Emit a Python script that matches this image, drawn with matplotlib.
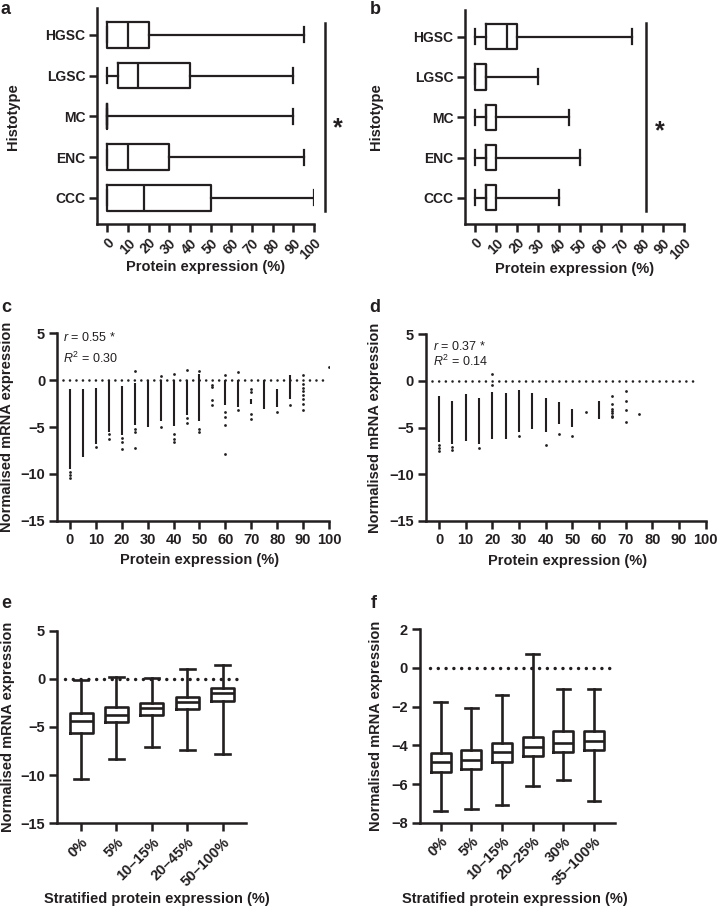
import matplotlib
matplotlib.use('Agg')
import matplotlib.pyplot as plt

plt.rcParams['font.family'] = ['Liberation Sans', 'DejaVu Sans']
plt.rcParams['font.weight'] = 'bold'
plt.rcParams['axes.labelweight'] = 'bold'
plt.rcParams['mathtext.fontset'] = 'custom'
plt.rcParams['mathtext.it'] = 'Liberation Sans:italic:weight=normal'
plt.rcParams['mathtext.rm'] = 'Liberation Sans:weight=normal'
plt.rcParams['lines.scale_dashes'] = False

INK = '#231f20'
W, H = 717, 907

# ---------------- data ----------------
histotypes = ['HGSC', 'LGSC', 'MC', 'ENC', 'CCC']
a_whislo = [0, 0, 0, 0, 0]
a_q1 = [0, 5, 0, 0, 0]
a_med = [10, 15, 0, 10, 17.5]
a_q3 = [20, 40, 0, 30, 50]
a_whishi = [95, 90, 90, 95, 100]

b_whislo = [0, 0, 0, 0, 0]
b_q1 = [5, 0, 5, 5, 5]
b_med = [15, 5, 5, 5, 5]
b_q3 = [20, 5, 10, 10, 10]
b_whishi = [75, 30, 45, 50, 40]

protein_ticks = [0, 10, 20, 30, 40, 50, 60, 70, 80, 90, 100]

# panel c: dense columns (drawn as solid runs of points) + isolated points
c_col_x = [0, 5, 10, 15, 20, 25, 30, 35, 40, 45, 50, 60, 65, 70, 75, 80, 85]
c_col_top = [-0.9, -0.9, -0.8, -0.1, -0.6, -0.35, 0.0, 0.0, 0.0, 0.0, 0.7, 0.0, 0.0, -2.0, 0.0, -0.9, 0.5]
c_col_bot = [-9.5, -8.2, -6.8, -5.5, -5.9, -4.8, -5.0, -4.4, -4.9, -3.7, -4.4, -2.7, -2.85, -2.5, -3.1, -2.85, -2.0]
c_pts_x = [0, 0, 0, 10, 15, 15, 20, 20, 20, 25, 25, 25, 25, 35, 35, 40, 40, 40, 40,
           45, 45, 45, 50, 50, 50, 55, 55, 55, 55, 60, 60, 60, 60, 60, 65, 65,
           70, 70, 70, 70, 80, 85, 90, 90, 90, 90, 90, 90, 90, 90, 100]
c_pts_y = [-9.8, -10.1, -10.4, -7.1, -5.8, -6.25, -6.2, -6.6, -7.4, 0.97, -5.2, -5.5, -7.2, 0.4, -5.0,
           0.7, -5.7, -6.25, -6.6, 1.07, -4.0, -4.6, 0.97, -5.2, -5.5, -0.55, -0.75, -2.1, -2.6,
           0.6, -3.4, -3.9, -4.8, -7.9, 0.9, -3.2, -0.9, -1.3, -3.6, -4.1, -3.4, -2.7,
           0.5, -0.4, -0.8, -1.2, -1.6, -2.0, -2.5, -3.2, 1.4]
c_r_text = '$r$ = 0.55 *'
c_r2_text = '$R^2$ = 0.30'

# panel d
d_col_x = [0, 5, 10, 15, 20, 25, 30, 35, 40, 45, 50, 60]
d_col_top = [-1.6, -2.1, -1.36, -1.8, -1.2, -1.3, -1.0, -1.3, -1.8, -2.26, -3.0, -2.15]
d_col_bot = [-6.5, -6.7, -6.4, -6.7, -6.2, -6.2, -5.5, -5.1, -5.5, -4.6, -4.9, -4.05]
d_pts_x = [0, 0, 0, 5, 5, 15, 20, 20, 30, 40, 45, 50, 55, 65, 65, 65, 65, 65, 65, 65,
           70, 70, 70, 70, 75]
d_pts_y = [-6.9, -7.2, -7.45, -7.1, -7.4, -7.2, 0.8, -0.47, -5.85, -6.9, -5.66, -5.9, -3.33,
           -1.65, -2.5, -3.0, -3.2, -3.45, -3.7, -3.9, -1.1, -2.1, -3.1, -4.37, -3.55]
d_r_text = '$r$ = 0.37 *'
d_r2_text = '$R^2$ = 0.14'

# panel e
e_cats = ['0%', '5%', '10–15%', '20–45%', '50–100%']
e_whislo = [-10.4, -8.3, -7.1, -7.4, -7.8]
e_q1 = [-5.66, -4.45, -3.78, -3.12, -2.26]
e_med = [-4.4, -3.75, -3.05, -2.36, -1.5]
e_q3 = [-3.57, -2.95, -2.53, -1.84, -1.0]
e_whishi = [-0.13, 0.17, 0.05, 1.07, 1.39]

# panel f
f_cats = ['0%', '5%', '10–15%', '20–25%', '30%', '35–100%']
f_whislo = [-7.38, -7.3, -7.08, -6.1, -5.79, -6.9]
f_q1 = [-5.36, -5.2, -4.85, -4.55, -4.37, -4.23]
f_med = [-4.84, -4.75, -4.32, -4.08, -3.88, -3.75]
f_q3 = [-4.4, -4.23, -3.88, -3.56, -3.28, -3.25]
f_whishi = [-1.76, -2.07, -1.42, 0.72, -1.1, -1.1]

# ---------------- figure ----------------
fig = plt.figure(figsize=(W / 100, H / 100), dpi=100)


def add_ax(l, t, r, b):
    return fig.add_axes([l / W, 1 - b / H, (r - l) / W, (b - t) / H])


def style(ax, labelsize=10):
    for s in ['top', 'right']:
        ax.spines[s].set_visible(False)
    for s in ['left', 'bottom']:
        ax.spines[s].set_linewidth(1.8)
        ax.spines[s].set_color(INK)
    ax.tick_params(width=1.8, length=5.5, color=INK, labelcolor=INK, labelsize=labelsize, pad=3)


def px_to_axes(ax, xpx, ypx):
    return ax.transAxes.inverted().transform((xpx, H - ypx))


def set_labels(ax, xlabel, xpos, ylabel, ypos, size=10.5):
    ax.set_xlabel(xlabel, fontsize=size, color=INK, va='center')
    ax.set_ylabel(ylabel, fontsize=size, color=INK, va='center')
    ax.xaxis.set_label_coords(*px_to_axes(ax, *xpos))
    ax.yaxis.set_label_coords(*px_to_axes(ax, *ypos))


def boxes(ax, pos, lo, q1, med, q3, hi, width, capw, orient, lw=1.6):
    stats = [dict(whislo=a, q1=b, med=c, q3=d, whishi=e, fliers=[])
             for a, b, c, d, e in zip(lo, q1, med, q3, hi)]
    lp = dict(color=INK, linewidth=lw)
    ax.bxp(stats, positions=pos, widths=width, capwidths=capw, orientation=orient,
           showfliers=False, boxprops=lp, whiskerprops=lp, capprops=lp,
           medianprops=lp, manage_ticks=False)


def dotted_zero(ax, x0, x1, lw, gap):
    ax.plot([x0, x1], [0, 0], color=INK, lw=lw, linestyle=(0, (0.01, gap)),
            dash_capstyle='round', solid_capstyle='round', zorder=1)


def letter(txt, xpx, ypx):
    fig.text(xpx / W, 1 - ypx / H, txt, fontsize=13, fontweight='bold', color=INK,
             ha='center', va='center')


# ---- a ----
ax = add_ax(97, 8, 314, 224)
style(ax)
boxes(ax, range(len(histotypes)), a_whislo, a_q1, a_med, a_q3, a_whishi, 0.63, 0.37, 'horizontal')
ax.set_xlim(-5, 100)
ax.set_ylim(4.64, -0.66)
ax.set_yticks(range(len(histotypes)))
ax.set_yticklabels(histotypes)
ax.set_xticks(protein_ticks)
ax.set_xticklabels([str(t) for t in protein_ticks], rotation=45, ha='right', va='top',
                   rotation_mode='anchor')
ax.plot([105.3, 105.3], [-0.29, 4.32], color=INK, lw=1.8, clip_on=False)
ax.text(111.6, 2.3, '*', fontsize=18, ha='center', va='center', color=INK, clip_on=False)
set_labels(ax, 'Protein expression (%)', (206, 267), 'Histotype', (13, 117))

# ---- b ----
ax = add_ax(465, 10, 684, 224)
style(ax)
boxes(ax, range(len(histotypes)), b_whislo, b_q1, b_med, b_q3, b_whishi, 0.63, 0.37, 'horizontal')
ax.set_xlim(-5, 100)
ax.set_ylim(4.65, -0.66)
ax.set_yticks(range(len(histotypes)))
ax.set_yticklabels(histotypes)
ax.set_xticks(protein_ticks)
ax.set_xticklabels([str(t) for t in protein_ticks], rotation=45, ha='right', va='top',
                   rotation_mode='anchor')
ax.plot([82, 82], [-0.33, 4.32], color=INK, lw=1.8)
ax.text(88.6, 2.35, '*', fontsize=18, ha='center', va='center', color=INK)
set_labels(ax, 'Protein expression (%)', (575, 269), 'Histotype', (376, 117))

# ---- c ----
ax = add_ax(57, 333.3, 329, 520.7)
style(ax, 10.5)
dotted_zero(ax, -2.5, 97.5, 1.9, 4.66)
ax.vlines(c_col_x, c_col_bot, c_col_top, color=INK, lw=1.5, zorder=2)
ax.scatter(c_pts_x, c_pts_y, s=4, color=INK, linewidths=0, zorder=2)
ax.set_xlim(-5, 100)
ax.set_ylim(-15, 5)
ax.set_xticks(protein_ticks)
ax.set_yticks([5, 0, -5, -10, -15])
ax.text(-2.6, 4.6, c_r_text, fontsize=9, fontweight='normal', color=INK, va='center')
ax.text(-2.6, 2.3, c_r2_text, fontsize=9, fontweight='normal', color=INK, va='center')
set_labels(ax, 'Protein expression (%)', (200, 560), 'Normalised mRNA expression', (7, 427))

# ---- d ----
ax = add_ax(425.7, 334.3, 705.7, 521)
style(ax, 10.5)
dotted_zero(ax, -2.5, 97.5, 1.9, 4.8)
ax.vlines(d_col_x, d_col_bot, d_col_top, color=INK, lw=1.5, zorder=2)
ax.scatter(d_pts_x, d_pts_y, s=4, color=INK, linewidths=0, zorder=2)
ax.set_xlim(-5, 100)
ax.set_ylim(-15, 5)
ax.set_xticks(protein_ticks)
ax.set_yticks([5, 0, -5, -10, -15])
ax.text(-2.3, 3.65, d_r_text, fontsize=9, fontweight='normal', color=INK, va='center')
ax.text(-2.3, 2.15, d_r2_text, fontsize=9, fontweight='normal', color=INK, va='center')
set_labels(ax, 'Protein expression (%)', (568, 561), 'Normalised mRNA expression', (375, 428))

# ---- e ----
ax = add_ax(57, 630.7, 245.7, 823.3)
style(ax, 10.5)
dotted_zero(ax, -0.45, 4.58, 2.5, 5.6)
boxes(ax, range(len(e_cats)), e_whislo, e_q1, e_med, e_q3, e_whishi, 0.65, 0.41, 'vertical', lw=1.9)
ax.set_xlim(-0.68, 4.65)
ax.set_ylim(-15, 5)
ax.set_yticks([5, 0, -5, -10, -15])
ax.set_xticks(range(len(e_cats)))
ax.set_xticklabels(e_cats, rotation=45, ha='right', va='top', rotation_mode='anchor')
set_labels(ax, 'Stratified protein expression (%)', (157, 899), 'Normalised mRNA expression', (7.5, 727))

# ---- f ----
ax = add_ax(419.7, 629.3, 614.7, 822.7)
style(ax, 10.5)
dotted_zero(ax, -0.36, 5.67, 2.5, 5.6)
boxes(ax, range(len(f_cats)), f_whislo, f_q1, f_med, f_q3, f_whishi, 0.65, 0.41, 'vertical', lw=1.9)
ax.set_xlim(-0.68, 5.67)
ax.set_ylim(-8, 2)
ax.set_yticks([2, 0, -2, -4, -6, -8])
ax.set_xticks(range(len(f_cats)))
ax.set_xticklabels(f_cats, rotation=45, ha='right', va='top', rotation_mode='anchor')
set_labels(ax, 'Stratified protein expression (%)', (515, 899), 'Normalised mRNA expression', (376, 726))

letter('a', 6, 9)
letter('b', 375, 9)
letter('c', 6, 307)
letter('d', 375, 307)
letter('e', 6, 603)
letter('f', 374, 603)

fig.savefig('out.png', dpi=100)
